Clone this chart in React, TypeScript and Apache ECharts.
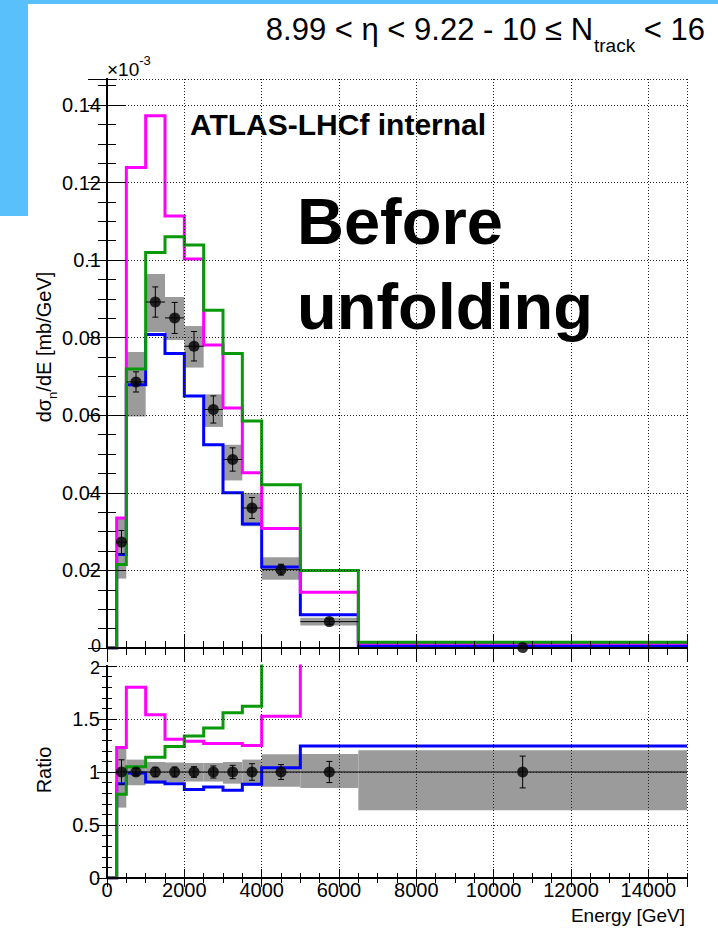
import React, { useEffect, useRef } from "react";
import * as echarts from "echarts";

// ---------- data ----------
const binEdges = [0, 250, 500, 1000, 1500, 2000, 2500, 3000, 3500, 4000, 5000, 6500, 15000];

// MC predictions, dσ/dE [mb/GeV] per bin
const mcMagenta = [0, 0.0335, 0.1239, 0.1372, 0.1114, 0.1003, 0.0781, 0.0619, 0.0452, 0.0308, 0.0144, 0.0012];
const mcGreen = [0, 0.0215, 0.0719, 0.102, 0.106, 0.1039, 0.0871, 0.0759, 0.0585, 0.0421, 0.02, 0.0015];
const mcBlue = [0, 0.0241, 0.0679, 0.0808, 0.0759, 0.065, 0.0524, 0.04, 0.032, 0.0209, 0.0086, 0.0006];

// Data points (bins 1..11)
const dataCenters = [375, 750, 1250, 1750, 2250, 2750, 3250, 3750, 4500, 5750, 10750];
const dataValues = [0.0273, 0.0686, 0.0892, 0.0851, 0.0778, 0.0615, 0.0486, 0.0361, 0.0202, 0.0068, 0.0001];
const dataStatErr = [0.003, 0.0026, 0.0039, 0.004, 0.0038, 0.0035, 0.003, 0.0027, 0.0014, 0.0007, 0.00005];
const sysLow = [0.0179, 0.0597, 0.0815, 0.0794, 0.0723, 0.057, 0.0432, 0.0314, 0.0176, 0.0058, 0.0002];
const sysHigh = [0.0333, 0.0763, 0.0964, 0.0905, 0.083, 0.0654, 0.0524, 0.04, 0.0234, 0.0078, 0.0004];

// Ratio panel
const ratioMagenta = [0, 1.23, 1.8, 1.54, 1.31, 1.29, 1.27, 1.27, 1.25, 1.525, 2.12, 4.0];
const ratioGreen = [0, 0.79, 1.05, 1.14, 1.24, 1.34, 1.415, 1.56, 1.62, 2.08, 2.94, 5.0];
const ratioBlue = [0, 0.89, 0.99, 0.906, 0.89, 0.834, 0.859, 0.827, 0.884, 1.04, 1.245, 1.245];
const ratioData = [1, 1, 1, 1, 1, 1, 1, 1, 1, 1, 1];
const ratioStatErr = [0.115, 0.035, 0.045, 0.047, 0.05, 0.057, 0.063, 0.078, 0.07, 0.1, 0.15];
const ratioSysLow = [0.664, 0.875, 0.89, 0.905, 0.91, 0.91, 0.89, 0.87, 0.86, 0.85, 0.64];
const ratioSysHigh = [1.22, 1.117, 1.094, 1.09, 1.085, 1.085, 1.094, 1.117, 1.167, 1.17, 1.205];

const topYMax = 0.1467;
const ratioYMax = 2;
const xMax = 15000;

// ---------- helpers ----------
const FONT = "'Liberation Sans', Arial, Helvetica, sans-serif";
const MAGENTA = "#ff00ff";
const GREEN = "#0a990a";
const BLUE = "#0000ff";
const GRAY = "#9b9b9b";

function histPoints(vals: number[]) {
  const pts: number[][] = [];
  for (let i = 0; i < vals.length; i++) {
    pts.push([binEdges[i], vals[i]]);
    pts.push([binEdges[i + 1], vals[i]]);
  }
  return pts;
}

function bandData(lo: number[], hi: number[]) {
  return lo.map((l, i) => [binEdges[i + 1], binEdges[i + 2], l, hi[i]]);
}

function errData(vals: number[], errs: number[]) {
  return vals.map((v, i) => [dataCenters[i], v, errs[i], binEdges[i + 1], binEdges[i + 2]]);
}

function bandSeries(data: number[][], axisIdx: number) {
  return {
    type: "custom",
    xAxisIndex: axisIdx,
    yAxisIndex: axisIdx,
    z: 1,
    clip: true,
    silent: true,
    renderItem: (params: any, api: any) => {
      const p1 = api.coord([api.value(0), api.value(3)]);
      const p2 = api.coord([api.value(1), api.value(2)]);
      return {
        type: "rect",
        shape: { x: p1[0], y: p1[1], width: p2[0] - p1[0], height: p2[1] - p1[1] },
        style: { fill: GRAY },
      };
    },
    data,
  };
}

function errSeries(data: number[][], axisIdx: number) {
  return {
    type: "custom",
    xAxisIndex: axisIdx,
    yAxisIndex: axisIdx,
    z: 5,
    clip: true,
    silent: true,
    renderItem: (params: any, api: any) => {
      const x = api.value(0);
      const y = api.value(1);
      const e = api.value(2);
      const pT = api.coord([x, y + e]);
      const pB = api.coord([x, y - e]);
      const pL = api.coord([api.value(3), y]);
      const pR = api.coord([api.value(4), y]);
      const st = { stroke: "#000", lineWidth: 1 };
      const cap = 3;
      return {
        type: "group",
        children: [
          { type: "line", shape: { x1: pL[0], y1: pL[1], x2: pR[0], y2: pR[1] }, style: st },
          { type: "line", shape: { x1: pT[0], y1: pT[1], x2: pB[0], y2: pB[1] }, style: st },
          { type: "line", shape: { x1: pT[0] - cap, y1: pT[1], x2: pT[0] + cap, y2: pT[1] }, style: st },
          { type: "line", shape: { x1: pB[0] - cap, y1: pB[1], x2: pB[0] + cap, y2: pB[1] }, style: st },
        ],
      };
    },
    data,
  };
}

function lineSeries(vals: number[], color: string, axisIdx: number, z: number) {
  return {
    type: "line",
    xAxisIndex: axisIdx,
    yAxisIndex: axisIdx,
    data: histPoints(vals),
    showSymbol: false,
    symbol: "none",
    clip: true,
    z,
    silent: true,
    lineStyle: { color, width: 3, join: "miter", cap: "butt" },
  };
}

function pointSeries(vals: number[], axisIdx: number) {
  return {
    type: "scatter",
    xAxisIndex: axisIdx,
    yAxisIndex: axisIdx,
    data: vals.map((v, i) => [dataCenters[i], v]),
    symbol: "circle",
    symbolSize: 11,
    itemStyle: { color: "#000" },
    z: 6,
    silent: true,
  };
}

const gridLine = { show: true, lineStyle: { color: "#222", width: 1, type: [1, 2] } };
const frameLine = { show: true, lineStyle: { color: "#000", width: 2 } };

function makeAxis(
  gridIndex: number,
  position: string,
  min: number,
  max: number,
  interval: number,
  tickLen: number,
  major: boolean,
  labels: any
) {
  return {
    type: "value",
    gridIndex,
    position,
    min,
    max,
    interval,
    axisLine: major ? frameLine : { show: false },
    axisTick: { show: true, inside: true, length: tickLen, lineStyle: { color: "#000", width: 1 } },
    axisLabel: labels ? { show: true, ...labels } : { show: false },
    splitLine: major && (position === "bottom" || position === "left") ? gridLine : { show: false },
    minorTick: { show: false },
    z: 10,
  };
}

const xLabelStyle = {
  fontSize: 20,
  color: "#000",
  fontFamily: FONT,
  margin: 2,
  showMaxLabel: false,
  formatter: (v: number) => String(Math.round(v)),
};

const yTopLabelStyle = {
  fontSize: 20,
  lineHeight: 16,
  color: "#000",
  fontFamily: FONT,
  margin: 6,
  showMaxLabel: false,
  formatter: (v: number) => (v === 0 ? "{z|0}" : String(parseFloat(v.toFixed(3)))),
  rich: {
    z: { fontSize: 18, lineHeight: 14, padding: [0, 0, 4, 0], fontFamily: FONT, color: "#000" },
  },
};

const yRatioLabelStyle = {
  fontSize: 20,
  lineHeight: 16,
  color: "#000",
  fontFamily: FONT,
  margin: 7,
  formatter: (v: number) => (v === 2 ? "{t|2}" : String(parseFloat(v.toFixed(2)))),
  rich: {
    t: { fontSize: 18, lineHeight: 14, padding: [4, 0, 0, 0], fontFamily: FONT, color: "#000" },
  },
};

export default function App() {
  const ref = useRef<HTMLDivElement>(null);

  useEffect(() => {
    if (!ref.current) return;
    const chart = echarts.init(ref.current, null, { renderer: "svg" });

    const xAxis = [
      // top panel (0..3)
      makeAxis(0, "bottom", 0, xMax, 2000, 14, true, null),
      makeAxis(0, "bottom", 0, xMax, 500, 7, false, null),
      makeAxis(0, "top", 0, xMax, 2000, 14, true, null),
      makeAxis(0, "top", 0, xMax, 500, 7, false, null),
      // ratio panel (4..7)
      makeAxis(1, "bottom", 0, xMax, 2000, 9, true, xLabelStyle),
      makeAxis(1, "bottom", 0, xMax, 500, 5, false, null),
      makeAxis(1, "top", 0, xMax, 2000, 9, true, null),
      makeAxis(1, "top", 0, xMax, 500, 5, false, null),
    ];
    const yAxis = [
      makeAxis(0, "left", 0, topYMax, 0.02, 19, true, yTopLabelStyle),
      makeAxis(0, "left", 0, topYMax, 0.005, 9, false, null),
      makeAxis(0, "right", 0, topYMax, 0.02, 19, true, null),
      makeAxis(0, "right", 0, topYMax, 0.005, 9, false, null),
      makeAxis(1, "left", 0, ratioYMax, 0.5, 10, true, yRatioLabelStyle),
      makeAxis(1, "left", 0, ratioYMax, 0.1, 5, false, null),
      makeAxis(1, "right", 0, ratioYMax, 0.5, 10, true, null),
      makeAxis(1, "right", 0, ratioYMax, 0.1, 5, false, null),
    ];

    const option: any = {
      animation: false,
      backgroundColor: "#ffffff",
      textStyle: { fontFamily: FONT },
      grid: [
        { left: 107, top: 79, width: 580, height: 569, containLabel: false },
        { left: 107, top: 666, width: 580, height: 212, containLabel: false },
      ],
      xAxis,
      yAxis,
      series: [
        bandSeries(bandData(sysLow, sysHigh), 0),
        lineSeries(mcBlue, BLUE, 0, 2),
        lineSeries(mcMagenta, MAGENTA, 0, 3),
        lineSeries(mcGreen, GREEN, 0, 4),
        errSeries(errData(dataValues, dataStatErr), 0),
        pointSeries(dataValues, 0),

        bandSeries(bandData(ratioSysLow, ratioSysHigh), 4),
        lineSeries(ratioBlue, BLUE, 4, 2),
        lineSeries(ratioMagenta, MAGENTA, 4, 3),
        lineSeries(ratioGreen, GREEN, 4, 4),
        errSeries(errData(ratioData, ratioStatErr), 4),
        pointSeries(ratioData, 4),
      ],
      graphic: [
        // light-blue slide background pieces
        { type: "rect", z: -10, shape: { x: 0, y: 0, width: 718, height: 4 }, style: { fill: "#5ac0fb" } },
        { type: "rect", z: -10, shape: { x: 0, y: 0, width: 28, height: 216 }, style: { fill: "#5ac0fb" } },
        // title
        {
          type: "text",
          x: 705,
          y: 14,
          style: {
            text: "{a|8.99 < η < 9.22 - 10 ≤ N}{s|track}{a| < 16}",
            align: "right",
            verticalAlign: "top",
            rich: {
              a: { fontSize: 31, lineHeight: 32, verticalAlign: "top", fontFamily: FONT, fill: "#000" },
              s: { fontSize: 19, lineHeight: 19, verticalAlign: "top", padding: [22, 0, 0, 1], fontFamily: FONT, fill: "#000" },
            },
          },
        },
        // x10^-3
        {
          type: "text",
          x: 107,
          y: 54,
          style: {
            text: "{a|×10}{s|-3}",
            align: "left",
            verticalAlign: "top",
            rich: {
              a: { fontSize: 19, lineHeight: 19, verticalAlign: "top", padding: [6, 0, 0, 0], fontFamily: FONT, fill: "#000" },
              s: { fontSize: 13, lineHeight: 13, verticalAlign: "top", fontFamily: FONT, fill: "#000" },
            },
          },
        },
        {
          type: "text",
          x: 190,
          y: 124,
          z: 20,
          style: { text: "ATLAS-LHCf internal", fontSize: 30, fontWeight: "bold", fontFamily: FONT, fill: "#000", align: "left", verticalAlign: "middle" },
        },
        {
          type: "text",
          x: 297,
          y: 221,
          z: 20,
          style: { text: "Before", fontSize: 65, fontWeight: "bold", fontFamily: FONT, fill: "#000", align: "left", verticalAlign: "middle" },
        },
        {
          type: "text",
          x: 297,
          y: 306,
          z: 20,
          style: { text: "unfolding", fontSize: 65, fontWeight: "bold", fontFamily: FONT, fill: "#000", align: "left", verticalAlign: "middle" },
        },
        // y titles
        {
          type: "text",
          x: 44,
          y: 347,
          rotation: Math.PI / 2,
          style: {
            text: "{a|dσ}{s|n}{a|/dE [mb/GeV]}",
            align: "center",
            verticalAlign: "middle",
            rich: {
              a: { fontSize: 20, lineHeight: 20, verticalAlign: "top", fontFamily: FONT, fill: "#000" },
              s: { fontSize: 13, lineHeight: 13, verticalAlign: "top", padding: [12, 0, 0, 0], fontFamily: FONT, fill: "#000" },
            },
          },
        },
        {
          type: "text",
          x: 44,
          y: 770,
          rotation: Math.PI / 2,
          style: { text: "Ratio", fontSize: 20, fontFamily: FONT, fill: "#000", align: "center", verticalAlign: "middle" },
        },
        {
          type: "text",
          x: 685,
          y: 915,
          style: { text: "Energy [GeV]", fontSize: 19, fontFamily: FONT, fill: "#000", align: "right", verticalAlign: "middle" },
        },
      ],
    };

    chart.setOption(option);
    return () => chart.dispose();
  }, []);

  return (
    <div
      ref={ref}
      style={{ position: "absolute", left: 0, top: 0, width: 718, height: 928, background: "#fff" }}
    />
  );
}
